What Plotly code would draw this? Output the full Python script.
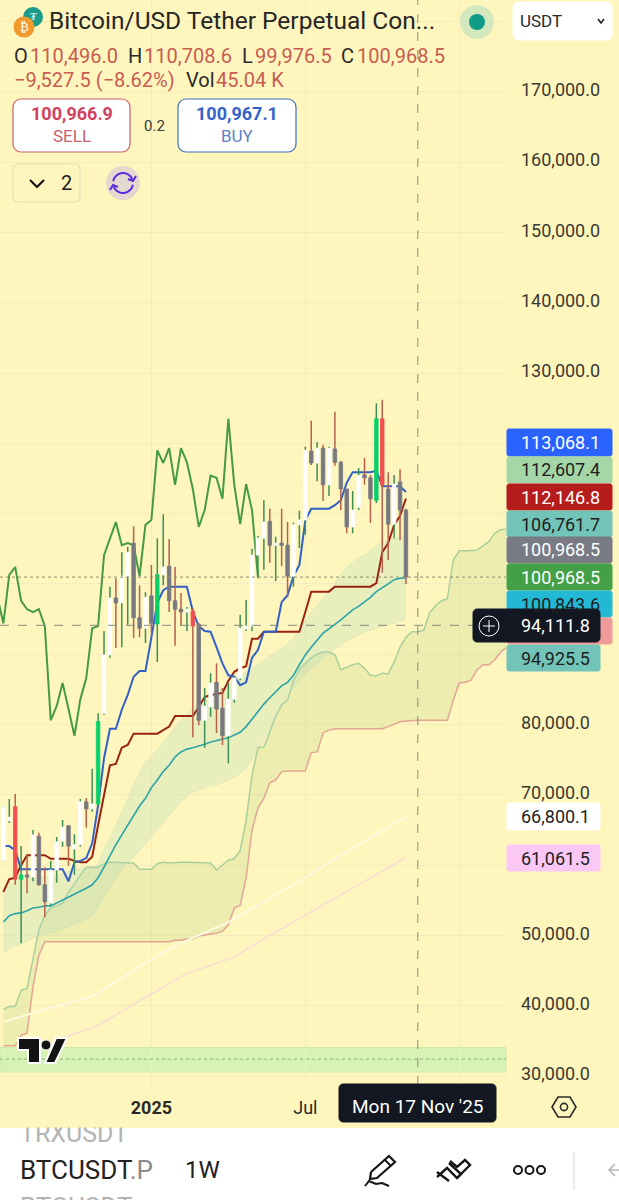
import math
import pandas as pd
import plotly.graph_objects as go

W, H = 619, 1200
PLOT_RIGHT, PLOT_BOTTOM = 506, 1085
YELLOW = "#FEF6BD"
GRID = "#F3ECBE"
FONT = "Roboto"

# ---------- data (weekly BTCUSDT.P) ----------
first_week = "2024-07-15"
open_ = [60700,66300,68300,58000,58600,58300,64100,57200,54600,59300,63400,65600,62300,62900,69000,68000,68700,81600,89900,98000,97300,101100,105800,95200,93700,98300,94300,101300,102500,97600,96400,96000,96100,94300,80600,82500,86000,82300,78400,83600,86600,93600,94000,104100,106500,108900,105500,105800,105500,101100,108400,109100,118900,117200,119300,114100,119200,117300,113500,108100,110900,115500,115100,111900,123500,113500,108500,114500,110496.0]
high = [68400,69400,70100,62700,61400,65000,64600,59700,60600,64000,66400,65700,64400,69400,69500,73700,81600,93300,99600,100800,104500,105300,108200,99800,98800,102700,106500,109900,106400,102400,98700,96700,96600,94400,85200,87300,88700,85200,85900,86800,95600,97700,105000,106800,111900,110700,106700,110700,108800,108700,110400,119500,123200,120200,119800,119500,124500,117500,113500,113200,116500,117900,115500,125700,126200,115900,115500,116300,110708.6]
low = [60600,66000,57200,48900,56000,57700,57100,52600,54300,57500,62600,59900,58600,62600,65300,67600,68400,81400,89500,90900,91000,94200,92300,92400,91600,92700,88900,99800,96000,91200,94000,93300,78200,79900,76700,81100,78800,77100,74500,83100,86300,93300,93300,100800,102000,103000,100400,102500,98100,99600,105100,107000,116900,114600,111800,112500,116800,110500,107200,107200,110500,114100,108700,111500,101600,103400,106500,106200,99976.5]
close = [68300,66800,58000,58600,58300,64300,57200,54800,59300,63300,65400,62700,62900,69000,68000,68700,80400,89900,98000,97300,101100,104500,95200,93700,98100,94400,101300,102400,97600,96400,96000,96400,94000,80600,82600,85900,82200,78400,83600,86600,93700,94000,104100,106500,108800,105500,105800,105500,101100,108400,109100,119000,117200,119300,114100,119300,117300,113500,108100,110500,115400,115100,112100,123500,114100,108500,114200,110500,100968.5]
bright_green_weeks = [3, 16, 26, 63]
bright_red_weeks = [2, 32, 64]

conversion_line = [62700,62700,62100,59400,59400,59400,59400,59400,59400,59400,59400,57700,60400,60600,61000,63100,68500,75200,79400,79400,82100,84200,86800,87600,87600,92400,97300,99100,99600,99600,99600,99600,96100,94000,93300,93200,91000,88700,87000,86800,85600,86000,89500,90600,93200,93200,93200,97400,98400,101100,102700,109000,110700,110700,110700,110700,111200,111900,114400,115900,115900,115900,115900,116100,113900,113900,113900,113900,113068.1]
base_line = [56200,58000,58200,60000,61400,61400,61400,61400,60900,60900,60900,60900,60600,60400,60400,61200,65700,70000,74200,74400,76700,77100,78700,78700,78700,78700,78700,79200,79700,81200,81200,81200,81200,82500,83900,84200,84300,84500,86200,87500,88000,88300,92200,92200,93200,93200,93200,93200,93200,93200,93200,96000,98900,98900,98900,98900,99600,99600,99600,99600,99600,99600,99600,100100,104500,105800,108400,109700,112146.8]
band_mid = [51900,52800,53100,53200,53500,53900,54000,54200,54200,54600,55000,55500,55900,56300,56700,57200,58200,59700,61400,62900,64300,65700,67100,68400,69500,71000,72100,73300,74200,75400,76100,76500,76700,76900,77200,77500,77700,77900,78100,78500,78900,79700,80800,81900,82900,83800,84600,85500,86000,87000,88500,89900,91000,92000,93000,93600,94200,94900,95600,96300,96800,97400,98100,98900,99400,100000,100600,100800,100843.6]
band_upper = [56300,57200,57600,57900,58200,58200,58300,58300,58300,58600,58900,59200,59400,59600,59600,59600,60000,62400,63900,65700,67600,69400,71500,73200,74700,75400,76400,77500,78500,79700,80600,81600,82300,83100,83600,84200,84800,85200,85800,86300,86900,87500,88000,88600,89200,89700,90300,90900,91500,92300,93700,94900,95900,97000,98100,99100,100100,101400,102400,103100,103700,104100,104700,105400,106000,106200,106500,106700,106761.7]
band_lower = [47500,48100,48500,48800,49100,49600,49900,50200,50300,50600,50900,51200,51500,51900,52300,52800,53900,55500,57000,58200,59300,60300,61100,62100,63100,64100,65100,66100,67100,68100,69000,69700,70400,70700,71000,71300,71400,71800,72100,72500,73100,73700,75000,76400,77800,79200,80900,82600,84200,85200,86200,87200,88000,88700,89500,90200,90700,91300,91900,92300,92700,93200,93400,93700,94000,94200,94400,94700,94925.5]
span_a = [39500,39900,39900,42200,42500,46900,50800,52900,53900,54200,
          54600,56200,57300,58600,59700,59700,59700,60200,60400,60400,
          60300,60300,60300,59400,59400,59400,60200,60400,60300,60400,
          60400,60400,60400,60400,60400,60300,59300,60000,60700,60900,
          62100,66400,72800,76700,76800,78900,81200,82800,83500,86300,
          87800,88700,89500,90000,90300,90300,89900,87800,88200,88500,
          88700,88000,87000,86900,87300,87200,88900,91000,92400,93200,
          93200,93400,95900,96900,97600,97900,103400,104700,104700,104800,
          104800,105400,106000,107200,107700,107800]
span_b = [34300,34300,34300,35800,36100,42700,47200,49100,49100,49100,
          49100,49100,49100,49100,49100,49100,49100,49100,49100,49100,
          49100,49100,49100,49100,49100,49100,49100,49100,49100,49300,
          49300,49500,49500,49900,50100,50200,50300,50600,51500,53900,
          54300,58200,65000,68100,69500,71700,72100,73300,73400,73400,
          73400,73400,76000,76100,78800,79200,79400,79400,79400,79400,
          79400,79400,79400,79400,79400,79700,80100,80400,80500,80600,
          80600,80600,80600,80600,80600,80600,83500,85900,86000,86300,
          87800,88500,88500,89200,90300,91000]
white_weeks = [0, 4, 8, 15, 24, 29, 38, 51, 55, 67, 68]
white_ma = [37700,38700,39700,41300,46100,48500,51900,58200,60400,66400,66800.1]
pink_weeks = [10, 16, 22, 25, 31, 39, 44, 51, 68]
pink_ma = [35400,37200,40200,41700,44600,46900,49500,52900,61061.5]
lagging_first_week = "2024-07-08"
lagging_start_close = 24

price_ticks = [30000,40000,50000,60000,70000,80000,90000,100000,110000,120000,130000,140000,150000,160000,170000,180000]
price_tick_text = ["30,000.0","40,000.0","50,000.0","","70,000.0","80,000.0","","","","","130,000.0","140,000.0","150,000.0","160,000.0","170,000.0",""]
time_ticks = ["2025-01-06", "2025-07-07", "2026-01-05"]
time_tick_text = ["<b>2025</b>", "Jul", ""]
last_close = 100968.5
cross_price = 94111.8
cross_date = "2025-11-17"
zone_low, zone_high, zone_mid = 30570, 34050, 32400

# ---------- series on the time axis ----------
weeks = pd.date_range(first_week, periods=len(span_a), freq="7D")
cw = weeks[:len(close)]
lag_x = pd.date_range(lagging_first_week, periods=len(close) - lagging_start_close, freq="7D")

X = lambda x: x / W
Y = lambda y: 1 - y / H
price_range = [28720, 183061]

fig = go.Figure()

def line(x, y, color, width, **kw):
    fig.add_trace(go.Scatter(x=x, y=y, mode="lines", line=dict(color=color, width=width),
                             hoverinfo="skip", showlegend=False, **kw))

# cloud, channel, moving lines (below the candles)
line(weeks, span_b, "#E3A595", 1.5)
line(weeks, span_a, "#ABCF9C", 1.5, fill="tonexty", fillcolor="rgba(170,205,120,0.20)")
line(cw, band_upper, "rgba(170,210,170,0.22)", 1)
line(cw, band_lower, "rgba(170,210,170,0.22)", 1, fill="tonexty", fillcolor="rgba(170,215,190,0.25)")
line([weeks[i] for i in pink_weeks], pink_ma, "#F6E2CF", 2)
line([weeks[i] for i in white_weeks], white_ma, "#FFFAE0", 2)
line(cw, band_mid, "#2BA5A8", 1.6)
line(lag_x, close[lagging_start_close:], "#459A46", 2)
line(cw, base_line, "#9A2412", 2)
line(cw, conversion_line, "#3060C8", 2)

# candles on an overlaid copy of the price axis, so they sit above the lines
def wicks(idx, color):
    mids = [(open_[i] + close[i]) / 2 for i in idx]
    fig.add_trace(go.Candlestick(
        x=[cw[i] for i in idx], open=mids, close=mids,
        high=[high[i] for i in idx], low=[low[i] for i in idx],
        increasing=dict(line=dict(color=color, width=1.5), fillcolor=color),
        decreasing=dict(line=dict(color=color, width=1.5), fillcolor=color),
        whiskerwidth=0, yaxis="y2", showlegend=False, hoverinfo="skip"))

def bodies(idx, up, down):
    fig.add_trace(go.Candlestick(
        x=[cw[i] for i in idx], open=[open_[i] for i in idx], close=[close[i] for i in idx],
        high=[max(open_[i], close[i]) for i in idx], low=[min(open_[i], close[i]) for i in idx],
        increasing=dict(line=dict(color=up, width=0.8), fillcolor=up),
        decreasing=dict(line=dict(color=down, width=0.8), fillcolor=down),
        whiskerwidth=0, yaxis="y2", showlegend=False, hoverinfo="skip"))

all_idx = list(range(len(close)))
wicks([i for i in all_idx if close[i] >= open_[i]], "#3E8F58")
wicks([i for i in all_idx if close[i] < open_[i]], "#B8604E")
bright = set(bright_green_weeks + bright_red_weeks)
bodies([i for i in all_idx if i not in bright], "#FFFFFF", "#787880")
bodies(sorted(bright), "#08D06A", "#F2504E")

# ---------- overlays ----------
shapes, ann = [], []

def rect(x0, y0, x1, y1, fill, line_color=None, lw=1, r=0):
    if r:
        k = 0.45 * r
        pts = (f"M{X(x0+r)} {Y(y0)} L{X(x1-r)} {Y(y0)} C{X(x1-k)} {Y(y0)} {X(x1)} {Y(y0+k)} {X(x1)} {Y(y0+r)} "
               f"L{X(x1)} {Y(y1-r)} C{X(x1)} {Y(y1-k)} {X(x1-k)} {Y(y1)} {X(x1-r)} {Y(y1)} "
               f"L{X(x0+r)} {Y(y1)} C{X(x0+k)} {Y(y1)} {X(x0)} {Y(y1-k)} {X(x0)} {Y(y1-r)} "
               f"L{X(x0)} {Y(y0+r)} C{X(x0)} {Y(y0+k)} {X(x0+k)} {Y(y0)} {X(x0+r)} {Y(y0)} Z")
        shapes.append(dict(type="path", xref="paper", yref="paper", path=pts, fillcolor=fill,
                           line=dict(color=line_color or fill, width=lw), layer="above"))
    else:
        shapes.append(dict(type="rect", xref="paper", yref="paper", x0=X(x0), x1=X(x1), y0=Y(y0), y1=Y(y1),
                           fillcolor=fill, line=dict(color=line_color or fill, width=lw if line_color else 0), layer="above"))

def circle(cx, cy, r, fill="rgba(0,0,0,0)", line_color=None, lw=1):
    shapes.append(dict(type="circle", xref="paper", yref="paper", x0=X(cx-r), x1=X(cx+r), y0=Y(cy+r), y1=Y(cy-r),
                       fillcolor=fill, line=dict(color=line_color or "rgba(0,0,0,0)", width=lw), layer="above"))

def poly(pts, color, lw=2, fill=None, closed=False):
    d = "M" + " L".join(f"{X(a)} {Y(b)}" for a, b in pts) + (" Z" if closed else "")
    shapes.append(dict(type="path", xref="paper", yref="paper", path=d,
                       fillcolor=fill or "rgba(0,0,0,0)", line=dict(color=color, width=lw), layer="above"))

def text(x, y, s, size=18, color="#2B2B2B", anchor="left", **kw):
    ann.append(dict(xref="paper", yref="paper", x=X(x), y=Y(y), text=s, showarrow=False, xanchor=anchor,
                    yanchor="middle", font=dict(family=FONT, size=size, color=color), borderpad=0, **kw))

# chart furniture in price/time coordinates
shapes.append(dict(type="rect", xref="x domain", yref="y", x0=0, x1=1, y0=zone_low, y1=zone_high,
                   fillcolor="#D6F2B4", line=dict(color="#CDEAAE", width=1), layer="below"))
shapes.append(dict(type="line", xref="x domain", yref="y", x0=0, x1=1, y0=zone_mid, y1=zone_mid,
                   line=dict(color="#8FB07E", width=1, dash="dot"), layer="above"))
shapes.append(dict(type="line", xref="x domain", yref="y", x0=0, x1=1, y0=last_close, y1=last_close,
                   line=dict(color="#8C8C6E", width=1, dash="dot"), layer="above"))
shapes.append(dict(type="line", xref="x domain", yref="y", x0=0, x1=1, y0=cross_price, y1=cross_price,
                   line=dict(color="#8A8A7C", width=1, dash="dash"), layer="above"))
shapes.append(dict(type="line", xref="x", yref="paper", x0=cross_date, x1=cross_date, y0=Y(PLOT_BOTTOM), y1=1,
                   line=dict(color="#8A8A7C", width=1, dash="dash"), layer="above"))

# bottom white strip
rect(0, 1128, W, H, "#FFFFFF")

# TradingView mark
poly([(18,1038),(40,1038),(40,1063),(28,1063),(28,1050),(18,1050)], "#FFFFFF", 2, "#131313", True)
poly([(45,1063),(56,1038),(67,1038),(55,1063)], "#FFFFFF", 2, "#131313", True)
circle(46, 1045, 5, "#131313", "#FFFFFF", 1)

# price badges
badges = [
    (429, 456, 612, "#2962FF", "#FFFFFF", "113,068.1"),
    (457, 483, 612, "#A5D6A7", "#1E1E1E", "112,607.4"),
    (484, 510, 612, "#B71C1C", "#FFFFFF", "112,146.8"),
    (511, 537, 612, "#72C4B8", "#1E1E1E", "106,761.7"),
    (537, 563, 612, "#787B86", "#FFFFFF", "100,968.5"),
    (564, 590, 612, "#43A047", "#FFFFFF", "100,968.5"),
    (591, 617, 612, "#22B8D6", "#1E1E1E", "100,843.6"),
    (618, 644, 612, "#F09A9A", "#1E1E1E", ""),
    (645, 671, 600, "#72C4B8", "#1E1E1E", "94,925.5"),
    (803, 830, 600, "#FFFFFF", "#1E1E1E", "66,800.1"),
    (845, 871, 600, "#FBC8F6", "#1E1E1E", "61,061.5"),
]
for y0, y1, x1, fill, fg, label in badges:
    rect(507, y0, x1, y1, fill, r=2)
    if label:
        text(520, (y0 + y1) / 2, label, 18, fg)

# crosshair price tag
rect(473, 609, 600, 642, "#131722", r=4)
circle(489, 626, 10, "rgba(0,0,0,0)", "#FFFFFF", 1)
poly([(483,626),(495,626)], "#FFFFFF", 1)
poly([(489,620),(489,632)], "#FFFFFF", 1)
text(520, 625.5, "94,111.8", 18, "#FFFFFF")

# crosshair date tag
rect(339, 1084, 496, 1122, "#131722", r=4)
text(417.5, 1106, "Mon 17 Nov '25", 19, "#FFFFFF", "center")

# header: symbol
circle(33, 17, 10, "#1B9C8A")
text(33, 17, "₮", 11, "#FFFFFF", "center")
circle(24, 27, 10.5, "#F09A2E")
text(24, 27, "₿", 13, "#FFFFFF", "center")
text(48, 21, "Bitcoin/USD Tether Perpetual Con...", 24.5, "#262626")
circle(477, 22, 17, "#D4E8BE")
circle(477, 22, 8, "#0E9C86")
rect(513, 2, 612, 40, "#FFFFFF", r=5)
text(519, 21, "USDT", 17, "#2A2A2A")
poly([(598,19),(601,23),(604,19)], "#222222", 1.6)

# OHLC legend
RED = "#C85C52"
for x, s, c in [(13,"O","#2A2A2A"),(29,"110,496.0",RED),(127,"H","#2A2A2A"),(143,"110,708.6",RED),
                (241,"L","#2A2A2A"),(254,"99,976.5",RED),(340,"C","#2A2A2A"),(356,"100,968.5",RED)]:
    text(x, 56, s, 20, c)
for x, s, c in [(13,"−9,527.5 (−8.62%)",RED),(185,"Vol","#2A2A2A"),(215,"45.04 K",RED)]:
    text(x, 80, s, 20, c)

# buy / sell
rect(13, 99, 130, 152, "#FFFFFF", "#C9636A", 1.2, r=8)
text(71.5, 114, "<b>100,966.9</b>", 18, "#D2415E", "center")
text(71.5, 136, "SELL", 17, "#C9606E", "center")
text(154, 126, "0.2", 15, "#3A3A3A", "center")
rect(178, 99, 296, 152, "#FFFFFF", "#3F6FBF", 1.2, r=8)
text(237, 114, "<b>100,967.1</b>", 18, "#3463C8", "center")
text(237, 136, "BUY", 17, "#5C7FC8", "center")

# indicator toggle row
rect(13, 164, 80, 202, YELLOW, "#E6E0B4", 1.2, r=5)
poly([(30,180),(37,187),(44,180)], "#111111", 2.2)
text(66, 183, "2", 20, "#222222", "center")
circle(123, 183, 17, "#E4D9CF")

def arc(cx, cy, r, a0, a1, n=12):
    return [(cx + r * math.cos(math.radians(a0 + (a1 - a0) * k / n)),
             cy + r * math.sin(math.radians(a0 + (a1 - a0) * k / n))) for k in range(n + 1)]
poly(arc(123, 183, 10, 190, 340), "#5A2BE2", 2)
poly(arc(123, 183, 10, 10, 160), "#5A2BE2", 2)
poly([(128,179),(133,181),(136,176)], "#5A2BE2", 2)
poly([(110,190),(113,185),(118,187)], "#5A2BE2", 2)

# settings hexagon
poly([(552,1107),(558,1097),(570,1097),(576,1107),(570,1117),(558,1117)], "#2A2A2A", 1.6, None, True)
circle(564, 1107, 3.6, "rgba(0,0,0,0)", "#2A2A2A", 1.6)

# bottom strip
text(19, 1133, "TRXUSDT", 25, "#B4B4B4")
ann.append(dict(xref="paper", yref="paper", x=X(14), y=Y(1128), xanchor="left", yanchor="bottom", text=" ",
                showarrow=False, bgcolor=YELLOW, width=118, height=11, borderpad=0))
text(19, 1207, "BTCUSDT", 26, "#B4B4B4")
text(19, 1170, "BTCUSDT<span style='color:#8A8A8A'>.P</span>", 26, "#222222")
text(184, 1170, "1W", 24, "#222222")
poly([(371,1172),(389,1156),(395,1162),(377,1178),(370,1179),(371,1172)], "#151515", 2.2)
poly([(385,1160),(391,1166)], "#151515", 2)
poly([(365,1186),(369,1181),(376,1184),(382,1183),(389,1186)], "#151515", 2)
poly([(437,1177),(447,1168),(457,1178),(461,1174),(449,1163)], "#151515", 2.4)
poly([(449,1181),(437,1172)], "#151515", 2.4)
poly([(457,1178),(470,1165),(465,1160),(457,1167),(450,1161)], "#151515", 2.4)
for cx in (518, 529.5, 541):
    circle(cx, 1170, 4, "#FFFFFF", "#151515", 2)
poly([(574,1152),(574,1190)], "#E5E5E5", 1.5)
poly([(615,1164),(609,1170),(615,1176)], "#B8B8B8", 1.6)
poly([(609,1170),(619,1170)], "#B8B8B8", 1.6)

fig.update_layout(
    width=W, height=H, autosize=False, margin=dict(l=0, r=0, t=0, b=0, pad=0),
    paper_bgcolor=YELLOW, plot_bgcolor=YELLOW, showlegend=False, boxgap=0.15,
    font=dict(family=FONT, size=18, color="#3A3A34"),
    xaxis=dict(domain=[0, PLOT_RIGHT / W], type="date",
               range=["2024-07-11", "2026-03-01 07:00"], rangeslider=dict(visible=False),
               tickmode="array", tickvals=time_ticks, ticktext=time_tick_text,
               showgrid=True, gridcolor=GRID, gridwidth=1, zeroline=False, showline=False,
               ticks="", ticklabelstandoff=10, tickfont=dict(family=FONT, size=18, color="#2A2A2A")),
    yaxis=dict(domain=[Y(PLOT_BOTTOM), 1], range=price_range, side="right", tickmode="array",
               tickvals=price_ticks, ticktext=price_tick_text, showgrid=True, gridcolor=GRID, gridwidth=1,
               zeroline=False, showline=False, ticks="", ticklabelstandoff=14, ticklabelshift=-2,
               tickfont=dict(family=FONT, size=18, color="#3A3A34")),
    yaxis2=dict(overlaying="y", range=price_range, side="right", visible=False),
    shapes=shapes, annotations=ann,
)

fig.write_html("out.html", config={"displayModeBar": False},
               post_script="document.body.style.margin='0';document.documentElement.style.overflow='hidden';")
